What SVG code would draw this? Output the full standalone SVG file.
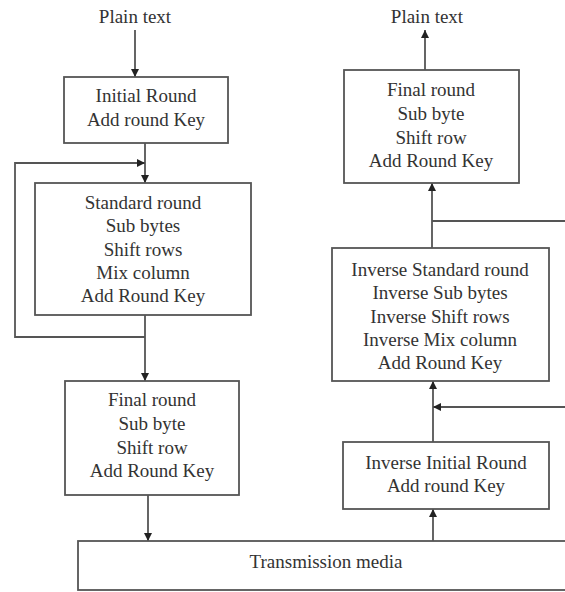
<svg xmlns="http://www.w3.org/2000/svg" width="565" height="592" viewBox="0 0 565 592">
<defs>
<style>
.box{fill:#fff;stroke:#555;stroke-width:1.8}
.ln{fill:none;stroke:#555;stroke-width:1.8}
.arr{marker-end:url(#ah)}
text{font-family:"Liberation Serif","Times New Roman",serif;font-size:19px;fill:#333;text-anchor:middle}
</style>
<marker id="ah" viewBox="0 0 10 10" refX="10" refY="5" markerWidth="8" markerHeight="8" markerUnits="userSpaceOnUse" orient="auto">
<path d="M0,0 L10,5 L0,10 z" fill="#222"/>
</marker>
</defs>
<rect width="565" height="592" fill="#fff"/>
<g id="connectors">
<line class="ln arr" x1="135" y1="30" x2="135" y2="77"/>
<line class="ln arr" x1="145" y1="143" x2="145" y2="183"/>
<polyline class="ln arr" points="145,337 15,337 15,163 145,163"/>
<line class="ln arr" x1="145" y1="315" x2="145" y2="381"/>
<line class="ln arr" x1="148" y1="495" x2="148" y2="541"/>
<line class="ln arr" x1="425" y1="70" x2="425" y2="30"/>
<line class="ln arr" x1="432" y1="248" x2="432" y2="183"/>
<line class="ln" x1="432" y1="221" x2="566" y2="221"/>
<line class="ln arr" x1="433" y1="442" x2="433" y2="381"/>
<line class="ln arr" x1="566" y1="407" x2="433" y2="407"/>
<line class="ln arr" x1="433" y1="541" x2="433" y2="509"/>
</g>
<g id="plain-in"><text x="135" y="23">Plain text</text></g>
<g id="plain-out"><text x="427" y="23">Plain text</text></g>
<g id="initial-round">
<rect class="box" x="64" y="77" width="164" height="66"/>
<text x="146" y="102">Initial Round</text>
<text x="146" y="126">Add round Key</text>
</g>
<g id="standard-round">
<rect class="box" x="35" y="183" width="216" height="132"/>
<text x="143" y="209">Standard round</text>
<text x="143" y="232">Sub bytes</text>
<text x="143" y="256">Shift rows</text>
<text x="143" y="279">Mix column</text>
<text x="143" y="302">Add Round Key</text>
</g>
<g id="final-round">
<rect class="box" x="65" y="381" width="174" height="114"/>
<text x="152" y="406">Final round</text>
<text x="152" y="430">Sub byte</text>
<text x="152" y="454">Shift row</text>
<text x="152" y="477">Add Round Key</text>
</g>
<g id="transmission">
<rect class="box" x="78" y="541" width="500" height="49"/>
<text x="326" y="568">Transmission media</text>
</g>
<g id="inv-final-round">
<rect class="box" x="344" y="70" width="175" height="113"/>
<text x="431" y="96">Final round</text>
<text x="431" y="120">Sub byte</text>
<text x="431" y="144">Shift row</text>
<text x="431" y="167">Add Round Key</text>
</g>
<g id="inv-standard-round">
<rect class="box" x="332" y="248" width="217" height="133"/>
<text x="440" y="276">Inverse Standard round</text>
<text x="440" y="299">Inverse Sub bytes</text>
<text x="440" y="323">Inverse Shift rows</text>
<text x="440" y="346">Inverse Mix column</text>
<text x="440" y="369">Add Round Key</text>
</g>
<g id="inv-initial-round">
<rect class="box" x="343" y="442" width="206" height="67"/>
<text x="446" y="469">Inverse Initial Round</text>
<text x="446" y="492">Add round Key</text>
</g>
</svg>
